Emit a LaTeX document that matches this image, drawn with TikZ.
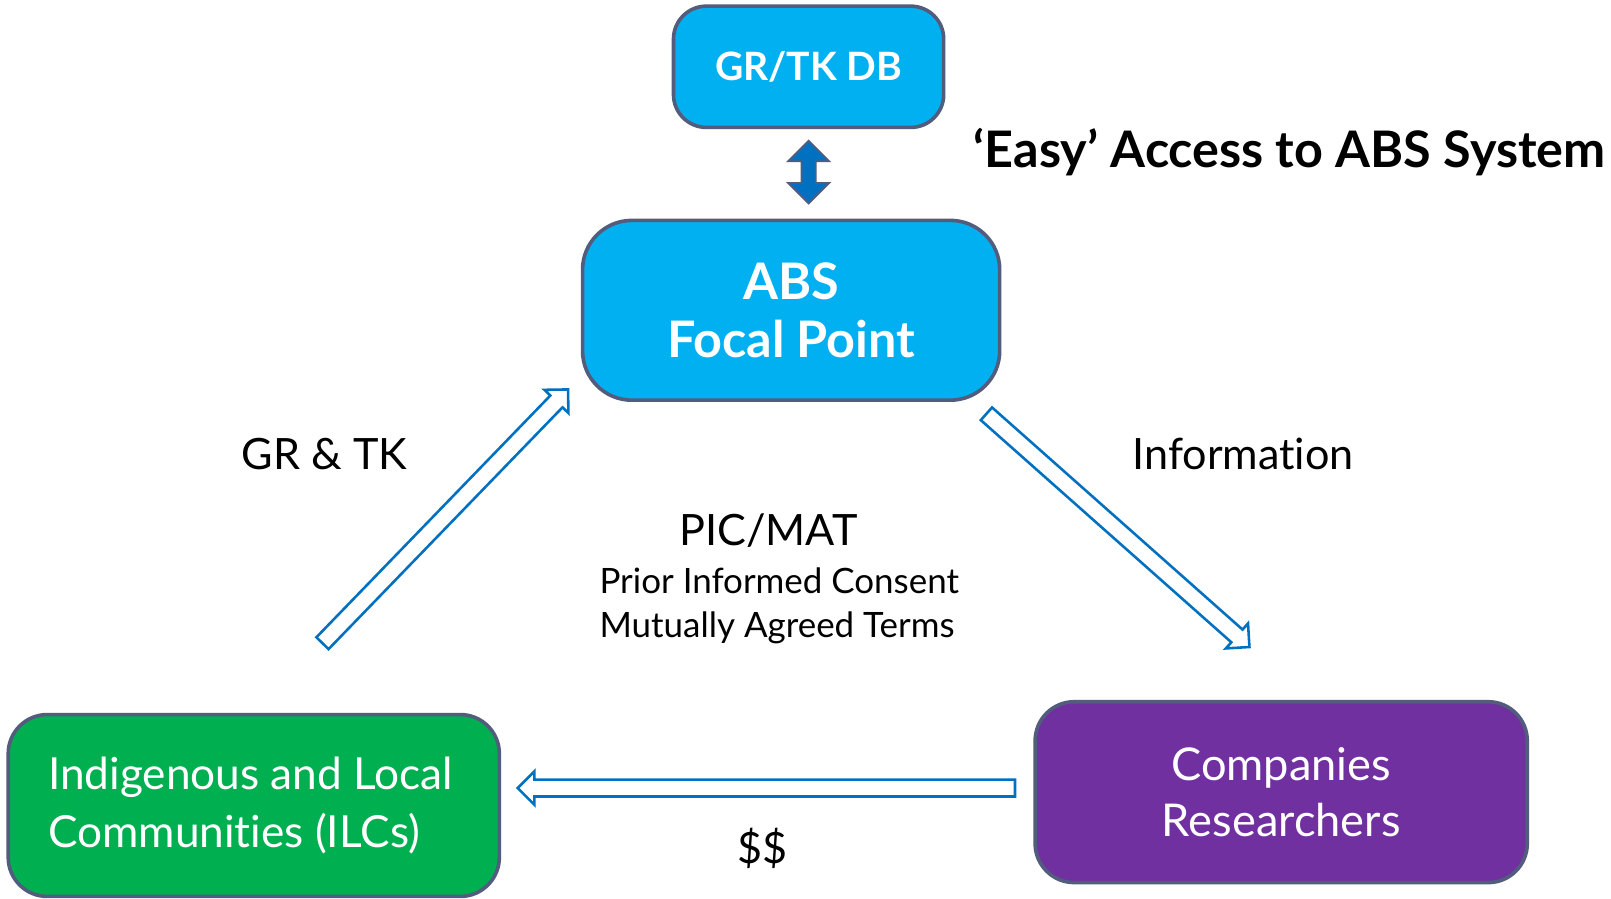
\documentclass[tikz,border=0pt]{standalone}
\usepackage{fontspec}
\setmainfont[Ligatures = NoCommon]{Lato}
\usetikzlibrary{shapes.arrows,calc}

\definecolor{skyblue}{HTML}{00B0F0}
\definecolor{arrowblue}{HTML}{0070C0}
\definecolor{boxgreen}{HTML}{00B050}
\definecolor{boxpurple}{HTML}{7030A0}
\definecolor{rimgray}{HTML}{525C7C}

\tikzset{
  box/.style = {draw = rimgray, line width = 3.5pt, rounded corners = 38pt,
                text = white, align = center},
  label/.style = {text = black, font = \fontsize{42}{50}\selectfont},
  flowarrow/.style = {single arrow, draw = arrowblue, line width = 2.5pt,
                      fill = white, inner sep = 7pt, minimum width = 30pt,
                      single arrow head extend = 8pt, anchor = center}
}

% hollow arrow between two coordinates
\newcommand{\flowarrow}[2]{%
  \path let \p1 = ($(#2) - (#1)$), \n1 = {veclen(\x1,\y1)},
            \n2 = {atan2(\y1,\x1)} in
    node [flowarrow, minimum height = \n1, rotate = \n2]
      at ($(#1)!0.5!(#2)$) {};}

\begin{document}
\begin{tikzpicture}[x = 1pt, y = -1pt]
  \useasboundingbox [fill = white] (0, 0) rectangle (1568, 875);

  % boxes
  \node [box, fill = skyblue, minimum width = 263pt, minimum height = 118pt,
         rounded corners = 32pt, font = \bfseries\fontsize{38}{40}\selectfont]
    (db) at (787, 65) {GR/TK DB};
  \node [box, fill = skyblue, minimum width = 406pt, minimum height = 175pt,
         rounded corners = 48pt, font = \bfseries\fontsize{49}{57}\selectfont]
    (focal) at (770, 302) {ABS\\Focal Point};
  \node [box, fill = boxgreen, minimum width = 478pt, minimum height = 177pt,
         align = left, font = \fontsize{43}{56}\selectfont]
    (ilc) at (247, 784) {\hspace*{-6pt}Indigenous and Local\\\hspace*{-6pt}Communities (ILCs)};
  \node [box, fill = boxpurple, minimum width = 479pt, minimum height = 176pt,
         font = \fontsize{44}{55}\selectfont]
    (comp) at (1247, 771) {Companies\\Researchers};

  % labels
  \node [label, font = \bfseries\fontsize{49}{50}\selectfont, anchor = west]
    (easy) at (944, 148) {‘Easy’ Access to ABS System};
  \node [label] (grtk) at (316, 442) {GR \& TK};
  \node [label] (info) at (1210, 442) {Information};
  \node [label] (picmat) at (748, 516) {PIC/MAT};
  \node [label, font = \fontsize{34}{43}\selectfont, align = left, anchor = north west]
    (terms) at (580, 549) {Prior Informed Consent\\Mutually Agreed Terms};
  \node [label] (money) at (742, 826) {\$\$};

  % arrow ends
  \coordinate (dbtop) at (787, 137);
  \coordinate (dbbot) at (787, 198);
  \coordinate (upfrom) at (311, 629);
  \coordinate (upto) at (550, 382);
  \coordinate (downfrom) at (957, 400);
  \coordinate (downto) at (1213, 627);
  \coordinate (backfrom) at (992, 767);
  \coordinate (backto) at (508, 767);

  % arrows
  \path ($(dbtop)!0.5!(dbbot)$) node [double arrow, rotate = 90, draw = rimgray,
      fill = arrowblue, line width = 1.8pt, inner sep = 6pt, minimum height = 61pt,
      double arrow head extend = 13pt] (dbarrow) {};
  \flowarrow{upfrom}{upto}
  \flowarrow{downfrom}{downto}
  \flowarrow{backfrom}{backto}
\end{tikzpicture}
\end{document}
